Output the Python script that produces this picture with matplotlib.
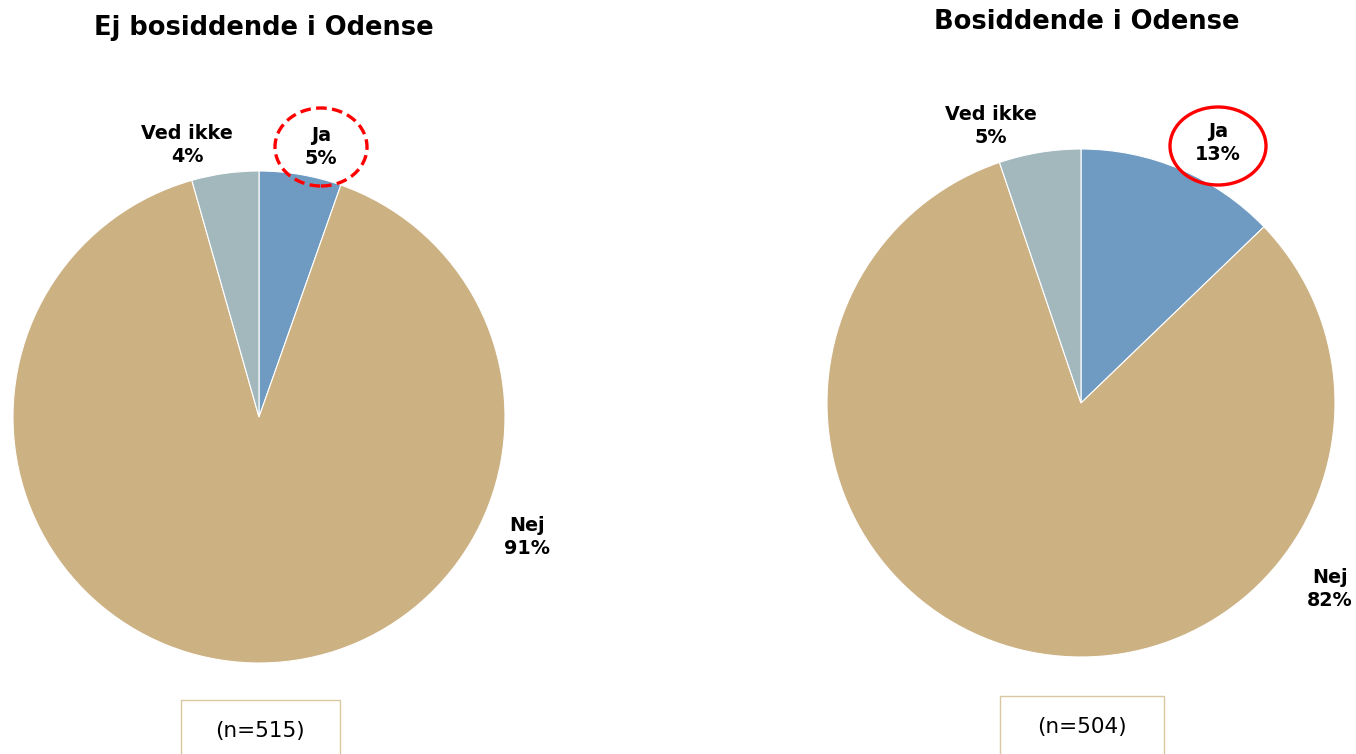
import matplotlib.pyplot as plt
from matplotlib.patches import Ellipse, Rectangle

# data
categories = ['Ja', 'Nej', 'Ved ikke']
left_values = [5.4, 90.2, 4.4]
left_labels = ['5%', '91%', '4%']
right_values = [12.8, 82.0, 5.2]
right_labels = ['13%', '82%', '5%']
titles = ['Ej bosiddende i Odense', 'Bosiddende i Odense']
n_labels = ['(n=515)', '(n=504)']

colors = ['#6F9BC2', '#CCB183', '#A3B8BC']
W, H = 1356, 754

fig = plt.figure(figsize=(W / 100, H / 100), dpi=100)
ax = fig.add_axes([0, 0, 1, 1])
ax.set_xlim(0, W)
ax.set_ylim(0, H)
ax.set_aspect('equal')
ax.axis('off')

def y(py):
    # pixel-from-top to data coords
    return H - py

pies = [
    dict(vals=left_values, labs=left_labels, center=(259, 417), r=246,
         title_xy=(264, 28), n_xy=(260, 731), box=(181, 340, 700),
         pos={'Ja': (321, 147), 'Nej': (527, 537), 'Ved ikke': (187, 145)},
         ring=dict(xy=(321, 147), w=92, h=78, ls=(0, (3.2, 1.6)))),
    dict(vals=right_values, labs=right_labels, center=(1081, 403), r=254,
         title_xy=(1087, 22), n_xy=(1082, 727), box=(1000, 1164, 696),
         pos={'Ja': (1218, 143), 'Nej': (1330, 589), 'Ved ikke': (991, 126)},
         ring=dict(xy=(1218, 146), w=96, h=78, ls='-')),
]

for i, p in enumerate(pies):
    cx, cy = p['center']
    ax.pie(p['vals'], colors=colors, startangle=90, counterclock=False,
           center=(cx, y(cy)), radius=p['r'], frame=True,
           wedgeprops=dict(edgecolor='white', linewidth=0.8))
    for cat, lab in zip(categories, p['labs']):
        tx, ty = p['pos'][cat]
        ax.text(tx, y(ty), cat + '\n' + lab, ha='center', va='center',
                fontsize=13.8, fontweight='bold', linespacing=1.3)
    rg = p['ring']
    ax.add_patch(Ellipse((rg['xy'][0], y(rg['xy'][1])), rg['w'], rg['h'],
                         fill=False, edgecolor='#FF0000', linewidth=2.4,
                         linestyle=rg['ls']))
    ax.text(p['title_xy'][0], y(p['title_xy'][1]), titles[i], ha='center',
            va='center', fontsize=18.5, fontweight='bold')
    x0, x1, top = p['box']
    ax.add_patch(Rectangle((x0, -10), x1 - x0, y(top) + 10, fill=False,
                           edgecolor='#D9C7A2', linewidth=1))
    ax.text(p['n_xy'][0], y(p['n_xy'][1]), n_labels[i], ha='center',
            va='center', fontsize=15.5)

ax.set_xlim(0, W)
ax.set_ylim(0, H)
ax.axis('off')
fig.savefig('out.png', dpi=100)
